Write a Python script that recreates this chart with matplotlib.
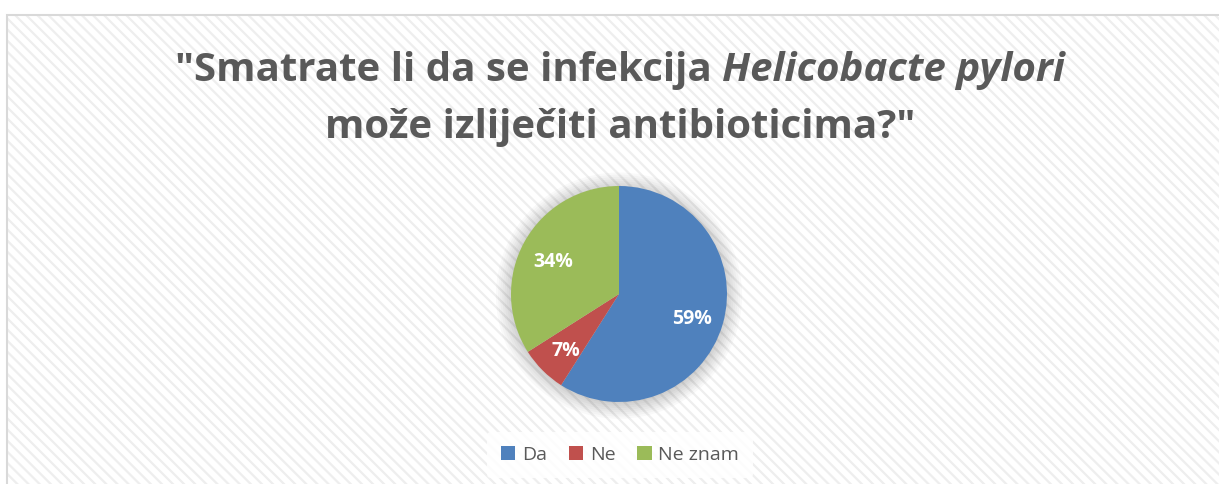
import matplotlib.pyplot as plt
import matplotlib.transforms as mtransforms
from matplotlib.patches import Rectangle, Circle

categories = ['Da', 'Ne', 'Ne znam']
values = [59, 7, 34]
colors = ['#4F81BD', '#C0504D', '#9BBB59']
title_1a = '"Smatrate li da se infekcija '
title_1b = 'Helicobacte pylori'
title_2 = 'može izliječiti antibioticima?"'

plt.rcParams['font.family'] = ['Open Sans', 'DejaVu Sans']
plt.rcParams['hatch.linewidth'] = 1.6

W, H = 1219, 484
fig = plt.figure(figsize=(W / 100, H / 100), dpi=100)
fig.patch.set_facecolor('white')

# chart area: hatched background + border
bg = Rectangle((7 / W, 0), 1, 1 - 15 / H, transform=fig.transFigure,
               facecolor='white', edgecolor='#EEEEEE', hatch='\\\\\\', lw=0, zorder=-2)
fig.patches.append(bg)
frame = Rectangle((7 / W, -0.01), 1.1, 1 - 15 / H + 0.01, transform=fig.transFigure,
                  facecolor='none', edgecolor='#D9D9D9', lw=1.5, zorder=-1)
fig.patches.append(frame)

# title, first line has italic part
tc = '#595959'
fs = 29
r = fig.canvas.get_renderer()
t1 = fig.text(0, 0, title_1a, fontsize=fs, fontweight='bold', color=tc)
t2 = fig.text(0, 0, title_1b, fontsize=fs, fontweight='bold', style='italic', color=tc)
w1 = t1.get_window_extent(r).width
w2 = t2.get_window_extent(r).width
x0 = (620 - (w1 + w2) / 2) / W
y1 = 1 - 70 / H
t1.set_position((x0, y1))
t1.set_va('center')
t2.set_position((x0 + w1 / W, y1))
t2.set_va('center')
fig.text(620 / W, 1 - 127 / H, title_2, fontsize=fs, fontweight='bold', color=tc,
         ha='center', va='center')

# pie
cx, cy, rad = 619, 294, 108
ax = fig.add_axes([(cx - rad) / W, 1 - (cy + rad) / H, 2 * rad / W, 2 * rad / H])
ax.set_zorder(2)
for i in range(8):
    ax.add_patch(Circle((0, -0.015), 1.0 + 0.02 * i, color='#000000', alpha=0.022, lw=0,
                        zorder=0, clip_on=False))
wedges, texts, autotexts = ax.pie(values, colors=colors, startangle=90, counterclock=False,
                                  autopct='%.0f%%', pctdistance=0.7, radius=1.0,
                                  wedgeprops=dict(lw=0),
                                  textprops=dict(color='white', fontsize=14, fontweight='bold'))
ax.set_xlim(-1, 1)
ax.set_ylim(-1, 1)
ax.set_aspect('equal')
ax.axis('off')
for w in wedges:
    w.set_zorder(2)
shift = mtransforms.offset_copy(ax.transData, fig=fig, x=0, y=-4, units='dots')
for t in autotexts:
    t.set_zorder(3)
    t.set_transform(shift)

# legend
leg = fig.legend(wedges, categories, loc='center', bbox_to_anchor=(620 / W, 1 - 455 / H),
                 ncol=3, frameon=True, fontsize=14, handlelength=0.75, handleheight=0.75,
                 handletextpad=0.35, columnspacing=1.1, borderpad=0.7)
leg.set_zorder(3)
leg.get_frame().set_facecolor('white')
leg.get_frame().set_edgecolor('none')
leg.get_frame().set_alpha(0.85)
for t in leg.get_texts():
    t.set_color('#595959')

fig.savefig('out.png', dpi=100)
